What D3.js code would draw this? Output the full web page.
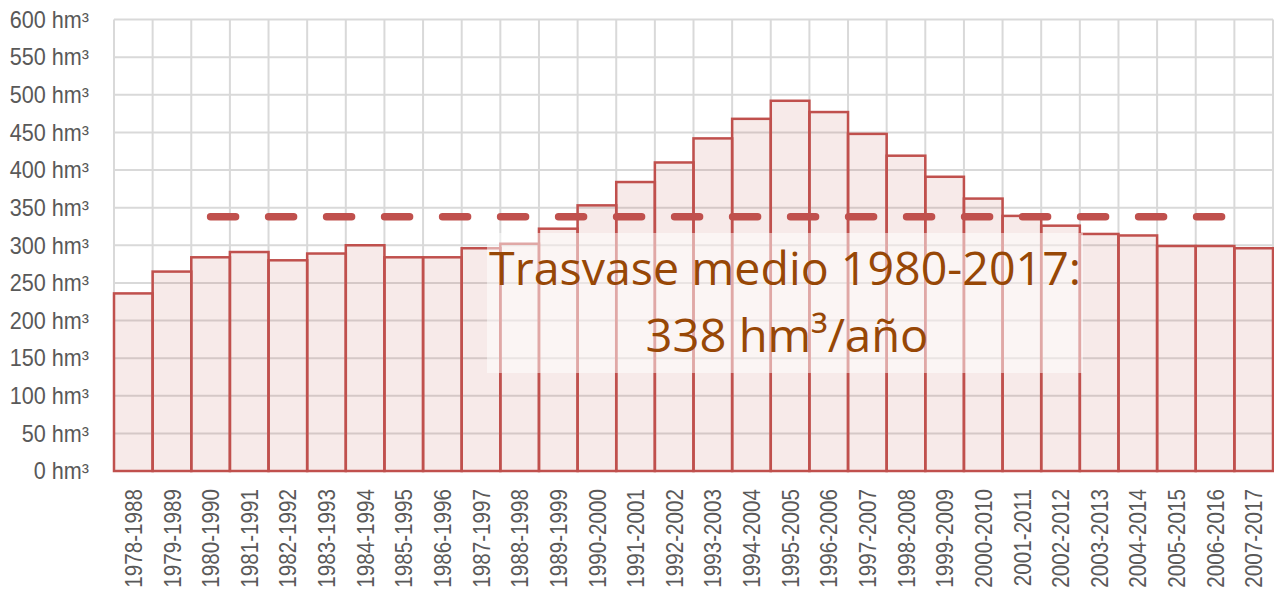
<!DOCTYPE html>
<html>
<head>
<meta charset="utf-8">
<script src="https://cdn.jsdelivr.net/npm/d3@7"></script>
<style>
  html, body { margin: 0; padding: 0; background: #fff; }
  svg { display: block; }
  .tick-label { font-family: "Liberation Sans", Arial, sans-serif; fill: #595959; }
</style>
</head>
<body>
<div id="chart"></div>
<script>
// periodos de 10 años (media móvil)
const categories = [
  '1978-1988', '1979-1989', '1980-1990', '1981-1991', '1982-1992', '1983-1993',
  '1984-1994', '1985-1995', '1986-1996', '1987-1997', '1988-1998', '1989-1999',
  '1990-2000', '1991-2001', '1992-2002', '1993-2003', '1994-2004', '1995-2005',
  '1996-2006', '1997-2007', '1998-2008', '1999-2009', '2000-2010', '2001-2011',
  '2002-2012', '2003-2013', '2004-2014', '2005-2015', '2006-2016', '2007-2017'
];
// trasvase medio por periodo (hm³)
const transfer = [
  236, 265, 284, 291, 280, 289, 300, 284, 284, 296, 302, 322,
  353, 384, 410, 442, 468, 492, 477, 448, 419, 391, 362, 339,
  326, 315, 313, 299, 299, 296
];
// media 1980-2017 (línea discontinua), sin valor en los dos primeros periodos
const meanLine = [
  null, null, 338, 338, 338, 338, 338, 338, 338, 338, 338, 338,
  338, 338, 338, 338, 338, 338, 338, 338, 338, 338, 338, 338,
  338, 338, 338, 338, 338, 338
];
const yTicks = [0, 50, 100, 150, 200, 250, 300, 350, 400, 450, 500, 550, 600];
const noteLines = ['Trasvase medio 1980-2017:', '338 hm³/año'];

const width = 1274, height = 594;
const plot = { left: 114, right: 1273, top: 19.5, bottom: 471 };

const svg = d3.select('#chart').append('svg')
  .attr('width', width)
  .attr('height', height);

const x = d3.scaleBand().domain(categories).range([plot.left, plot.right]).paddingInner(0).paddingOuter(0);
const y = d3.scaleLinear().domain([0, 600]).range([plot.bottom, plot.top]);

// rejilla horizontal
svg.append('g')
  .selectAll('line')
  .data(yTicks)
  .join('line')
  .attr('x1', plot.left).attr('x2', plot.right)
  .attr('y1', d => y(d)).attr('y2', d => y(d))
  .attr('stroke', '#d9d9d9')
  .attr('stroke-width', 2);

// rejilla vertical (entre categorías)
const bounds = categories.map(c => x(c)).concat([x(categories[categories.length - 1]) + x.bandwidth()]);
svg.append('g')
  .selectAll('line')
  .data(bounds)
  .join('line')
  .attr('x1', d => d).attr('x2', d => d)
  .attr('y1', plot.top).attr('y2', plot.bottom)
  .attr('stroke', '#d9d9d9')
  .attr('stroke-width', 2);

// barras
svg.append('g')
  .selectAll('rect')
  .data(transfer)
  .join('rect')
  .attr('x', (d, i) => x(categories[i]))
  .attr('y', d => y(d))
  .attr('width', x.bandwidth())
  .attr('height', d => y(0) - y(d))
  .attr('fill', '#c0504d')
  .attr('fill-opacity', 0.12)
  .attr('stroke', '#c0504d')
  .attr('stroke-width', 2.5);

// línea de la media
const line = d3.line()
  .defined(d => d != null)
  .x((d, i) => x(categories[i]) + x.bandwidth() / 2)
  .y(d => y(d));

svg.append('path')
  .datum(meanLine)
  .attr('d', line)
  .attr('fill', 'none')
  .attr('stroke', '#c0504d')
  .attr('stroke-width', 7.5)
  .attr('stroke-linecap', 'round')
  .attr('stroke-dasharray', '25 33');

// eje Y
svg.append('g')
  .selectAll('text')
  .data(yTicks)
  .join('text')
  .attr('class', 'tick-label')
  .attr('transform', d => `translate(89,${y(d)}) scale(0.94,1)`)
  .attr('dy', '0.36em')
  .attr('text-anchor', 'end')
  .attr('font-size', 23)
  .text(d => d + ' hm³');

// eje X (etiquetas verticales, algo estrechas)
svg.append('g')
  .selectAll('text')
  .data(categories)
  .join('text')
  .attr('class', 'tick-label')
  .attr('transform', d => `translate(${x(d) + x.bandwidth() / 2},489) rotate(-90) scale(0.86,1)`)
  .attr('dy', '0.36em')
  .attr('text-anchor', 'end')
  .attr('font-size', 24)
  .text(d => d);

// cuadro de texto semitransparente
const box = { x0: 487, x1: 1083, y0: 233, y1: 373 };
svg.append('rect')
  .attr('x', box.x0).attr('y', box.y0)
  .attr('width', box.x1 - box.x0).attr('height', box.y1 - box.y0)
  .attr('fill', '#ffffff')
  .attr('fill-opacity', 0.5);

const cx = (box.x0 + box.x1) / 2;
svg.append('text')
  .attr('x', cx).attr('y', 285)
  .attr('text-anchor', 'middle')
  .attr('font-family', '"Open Sans", "Noto Sans", sans-serif')
  .attr('font-size', 46)
  .attr('fill', '#974706')
  .attr('textLength', 592)
  .attr('lengthAdjust', 'spacingAndGlyphs')
  .text(noteLines[0]);

svg.append('text')
  .attr('x', cx + 2).attr('y', 352)
  .attr('text-anchor', 'middle')
  .attr('font-family', '"Open Sans", "Noto Sans", sans-serif')
  .attr('font-size', 46)
  .attr('fill', '#974706')
  .attr('textLength', 283)
  .attr('lengthAdjust', 'spacingAndGlyphs')
  .text(noteLines[1]);
</script>
</body>
</html>
